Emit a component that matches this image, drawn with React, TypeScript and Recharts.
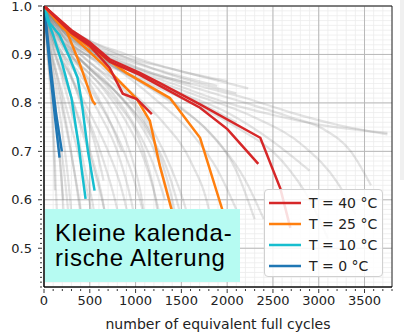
import { LineChart, Line, XAxis, YAxis, CartesianGrid, ReferenceArea, Legend } from "recharts"

// axis ticks
const xMajor = [0, 500, 1000, 1500, 2000, 2500, 3000, 3500]
const yMajor = [0.5, 0.6, 0.7, 0.8, 0.9, 1.0]
const xMinor = Array.from({ length: 39 }, (_, i) => i * 100)
const yMinor = Array.from({ length: 59 }, (_, i) => +(0.42 + i * 0.01).toFixed(2))

// background cells (grey), [cycles, SOH]
const greyCells = [
  [[0, 1], [300, 0.945], [800, 0.9], [1400, 0.87], [2230, 0.83]],
  [[0, 1], [300, 0.94], [800, 0.895], [1300, 0.865], [1890, 0.835]],
  [[0, 1], [250, 0.945], [700, 0.9], [1200, 0.86], [1700, 0.835], [2200, 0.81], [2700, 0.78], [3200, 0.755], [3750, 0.735]],
  [[0, 1], [300, 0.93], [800, 0.88], [1400, 0.84], [2000, 0.8], [2500, 0.775], [3000, 0.755], [3750, 0.738]],
  [[0, 1], [300, 0.935], [800, 0.885], [1500, 0.84], [2200, 0.8], [2700, 0.77], [3050, 0.746], [3350, 0.7], [3570, 0.63]],
  [[0, 1], [300, 0.93], [900, 0.87], [1600, 0.82], [2300, 0.77], [2834, 0.711], [3206, 0.635], [3400, 0.57]],
  [[0, 1], [300, 0.925], [900, 0.86], [1500, 0.81], [2100, 0.75], [2600, 0.68], [2900, 0.6], [3100, 0.52]],
  [[0, 1], [200, 0.94], [700, 0.88], [1200, 0.84], [1700, 0.8], [2100, 0.76]],
  [[0, 1], [300, 0.95], [900, 0.9], [1500, 0.865], [2000, 0.845]],
  [[0, 1], [250, 0.94], [700, 0.895], [1200, 0.86], [1600, 0.84]],
  [[0, 1], [200, 0.93], [500, 0.87], [900, 0.8], [1200, 0.72], [1400, 0.6], [1500, 0.5]],
  [[0, 1], [200, 0.92], [500, 0.86], [800, 0.8], [1050, 0.72], [1200, 0.62], [1300, 0.5]],
  [[0, 1], [150, 0.93], [400, 0.87], [700, 0.8], [900, 0.72], [1050, 0.62], [1150, 0.5]],
  [[0, 1], [150, 0.92], [350, 0.86], [600, 0.78], [800, 0.7], [950, 0.6], [1050, 0.5]],
  [[0, 1], [100, 0.93], [300, 0.85], [500, 0.76], [650, 0.68], [800, 0.58], [900, 0.48]],
  [[0, 1], [100, 0.92], [250, 0.84], [400, 0.75], [550, 0.66], [680, 0.56], [750, 0.48]],
  [[0, 1], [80, 0.93], [200, 0.85], [330, 0.76], [450, 0.66], [560, 0.56], [620, 0.46]],
  [[0, 1], [60, 0.93], [150, 0.85], [250, 0.75], [330, 0.66], [400, 0.57]],
  [[0, 1], [50, 0.92], [120, 0.84], [200, 0.74], [260, 0.65], [310, 0.55]],
  [[0, 1], [40, 0.93], [100, 0.84], [150, 0.74], [190, 0.64], [220, 0.56]],
  [[0, 1], [30, 0.92], [80, 0.82], [110, 0.72], [130, 0.62], [150, 0.54]],
  [[0, 1], [400, 0.9], [900, 0.83], [1300, 0.76], [1600, 0.68], [1800, 0.58], [1900, 0.48]],
  [[0, 1], [350, 0.9], [800, 0.82], [1100, 0.75], [1350, 0.66], [1500, 0.56], [1600, 0.46]],
  [[0, 1], [300, 0.91], [700, 0.84], [1000, 0.77], [1250, 0.68], [1400, 0.58]],
  [[0, 1], [250, 0.91], [600, 0.84], [900, 0.76], [1100, 0.68], [1250, 0.58], [1330, 0.5]],
  [[0, 1], [400, 0.92], [900, 0.86], [1400, 0.8], [1800, 0.74], [2100, 0.66], [2300, 0.56]],
  [[0, 1], [500, 0.91], [1000, 0.85], [1500, 0.79], [1900, 0.72], [2200, 0.64], [2400, 0.56]],
  [[0, 1], [200, 0.95], [600, 0.9], [1000, 0.86], [1500, 0.82], [2000, 0.78], [2500, 0.72], [2900, 0.66]],
  [[0, 1], [300, 0.95], [700, 0.91], [1200, 0.87], [1700, 0.84], [2100, 0.82]],
  [[0, 1], [150, 0.94], [400, 0.9], [700, 0.85], [1000, 0.79], [1200, 0.73]],
  [[0, 1], [100, 0.95], [300, 0.9], [500, 0.84], [700, 0.77], [850, 0.7]],
  [[0, 1], [80, 0.94], [250, 0.88], [400, 0.8], [550, 0.72], [650, 0.64]],
  [[0, 1], [120, 0.93], [350, 0.87], [600, 0.8], [850, 0.71], [1000, 0.63], [1100, 0.55], [1150, 0.46]],
  [[0, 1], [100, 0.93], [280, 0.86], [500, 0.78], [700, 0.7], [850, 0.62], [950, 0.53], [1000, 0.44]],
  [[0, 1], [70, 0.93], [200, 0.86], [380, 0.77], [520, 0.69], [640, 0.6], [720, 0.5], [760, 0.43]],
  [[0, 1], [60, 0.92], [170, 0.84], [300, 0.75], [420, 0.66], [520, 0.57], [580, 0.48]],
  [[0, 1], [50, 0.93], [130, 0.85], [230, 0.76], [320, 0.67], [400, 0.58], [450, 0.5], [480, 0.43]],
  [[0, 1], [40, 0.92], [100, 0.83], [170, 0.73], [230, 0.64], [270, 0.56], [300, 0.47]],
  [[0, 1], [35, 0.93], [90, 0.84], [140, 0.75], [180, 0.67], [210, 0.6]],
  [[0, 1], [20, 0.94], [60, 0.85], [90, 0.76], [110, 0.68], [120, 0.62]],
  [[0, 1], [150, 0.94], [450, 0.88], [750, 0.82], [1000, 0.75], [1200, 0.67], [1320, 0.6]],
  [[0, 1], [200, 0.94], [600, 0.88], [950, 0.81], [1200, 0.74], [1400, 0.66], [1550, 0.58], [1650, 0.5]],
  [[0, 1], [350, 0.93], [800, 0.87], [1200, 0.81], [1600, 0.74], [1900, 0.66], [2100, 0.58]],
]

const cells40 = [
  [[0, 1], [300, 0.944], [500, 0.918], [717, 0.872], [860, 0.819], [1013, 0.808], [1178, 0.777]],
  [[0, 1], [300, 0.947], [500, 0.922], [717, 0.885], [1047, 0.858], [1266, 0.835], [1704, 0.79], [2002, 0.746], [2340, 0.674]],
  [[0, 1], [300, 0.95], [500, 0.925], [717, 0.89], [1047, 0.862], [1266, 0.841], [1704, 0.797], [2362, 0.728], [2581, 0.623], [2690, 0.542]],
]
const cells25 = [
  [[0, 1], [224, 0.959], [388, 0.882], [531, 0.804], [563, 0.796]],
  [[0, 1], [300, 0.94], [641, 0.88], [1014, 0.808], [1156, 0.763], [1265, 0.67], [1397, 0.577], [1480, 0.48]],
  [[0, 1], [200, 0.955], [500, 0.915], [900, 0.862], [1375, 0.81], [1704, 0.728], [1945, 0.581], [2050, 0.48]],
]
const cells10 = [
  [[0, 1], [40, 0.97], [100, 0.94], [200, 0.88], [300, 0.81], [380, 0.71], [420, 0.65], [454, 0.602]],
  [[0, 1], [60, 0.965], [170, 0.94], [280, 0.893], [366, 0.852], [410, 0.804], [480, 0.7], [552, 0.619]],
]
const cells0 = [
  [[0, 1], [30, 0.95], [80, 0.86], [130, 0.78], [195, 0.7]],
  [[0, 1], [25, 0.95], [70, 0.86], [120, 0.77], [170, 0.687]],
]

const groups = [
  { label: "T = 40 °C", color: "#d62728", cells: cells40 },
  { label: "T = 25 °C", color: "#ff7f0e", cells: cells25 },
  { label: "T = 10 °C", color: "#17becf", cells: cells10 },
  { label: "T = 0 °C", color: "#1f77b4", cells: cells0 },
]

const toRows = (c: number[][]) => c.map(([x, y]) => ({ x, y }))
const font = "'DejaVu Sans', sans-serif"

const XTick = (props: any) => {
  const { x, y, payload } = props
  const v = payload.value
  const major = v % 500 === 0
  return (
    <g>
      <line x1={x} x2={x} y1={y} y2={y + (major ? 4 : 2)} stroke="#000" strokeWidth={0.8} />
      {major && (
        <text x={x} y={y + 16} textAnchor="middle" fontSize={13} fontFamily={font} fill="#222">
          {v}
        </text>
      )}
    </g>
  )
}

const YTick = (props: any) => {
  const { x, y, payload } = props
  const v = payload.value
  const major = Math.abs(v * 10 - Math.round(v * 10)) < 1e-6
  return (
    <g>
      <line x1={x} x2={x - (major ? 4 : 2)} y1={y} y2={y} stroke="#000" strokeWidth={0.8} />
      {major && (
        <text x={x - 10} y={y + 4.5} textAnchor="end" fontSize={13} fontFamily={font} fill="#222">
          {v.toFixed(1)}
        </text>
      )}
    </g>
  )
}

const LegendBox = () => (
  <div
    style={{
      width: 119,
      height: 88,
      background: "rgba(255,255,255,0.85)",
      border: "1px solid #d0d0d0",
      borderRadius: 4,
      boxSizing: "border-box",
      paddingTop: 2,
    }}
  >
    {groups.map((g) => (
      <div key={g.label} style={{ display: "flex", alignItems: "center", height: 21 }}>
        <svg width={44} height={10}>
          <line x1={4} x2={36} y1={5} y2={5} stroke={g.color} strokeWidth={2.5} />
        </svg>
        <span style={{ fontFamily: font, fontSize: 14, color: "#222" }}>{g.label}</span>
      </div>
    ))}
  </div>
)

export default function App() {
  return (
    <div style={{ position: "absolute", left: 0, top: 0, width: 404, height: 336, background: "#fff" }}>
      <LineChart width={404} height={336} margin={{ top: 6, right: 12, left: 0, bottom: 0 }}>
        <CartesianGrid stroke="#ececec" strokeWidth={0.8} horizontalValues={yMinor} verticalValues={xMinor} />
        <CartesianGrid stroke="#b8b8b8" strokeWidth={1} horizontalValues={yMajor} verticalValues={xMajor} />
        <XAxis
          dataKey="x"
          type="number"
          domain={[0, 3800]}
          ticks={xMinor}
          interval={0}
          tick={<XTick />}
          tickLine={false}
          tickSize={0}
          height={49}
          axisLine={{ stroke: "#000" }}
          allowDataOverflow
          label={{ value: "number of equivalent full cycles", position: "insideBottom", offset: 7, fontSize: 14, fontFamily: font, fill: "#222" }}
        />
        <YAxis
          dataKey="y"
          type="number"
          domain={[0.42, 1.0]}
          ticks={yMinor}
          interval={0}
          tick={<YTick />}
          tickLine={false}
          tickSize={0}
          width={44}
          axisLine={{ stroke: "#000" }}
          allowDataOverflow
        />
        {greyCells.map((c, i) => (
          <Line
            key={"g" + i}
            data={toRows(c)}
            dataKey="y"
            type="monotone"
            stroke="#7f7f7f"
            strokeOpacity={0.22}
            strokeWidth={2.2}
            dot={false}
            isAnimationActive={false}
            legendType="none"
          />
        ))}
        {[...groups].reverse().map((g) =>
          g.cells.map((c, i) => (
            <Line
              key={g.label + i}
              data={toRows(c)}
              dataKey="y"
              type="linear"
              stroke={g.color}
              strokeWidth={2.5}
              dot={false}
              isAnimationActive={false}
              legendType="none"
            />
          ))
        )}
        <ReferenceArea x1={0} x2={3800} y1={0.42} y2={1.0} fill="none" stroke="#222" strokeWidth={1} />
        <Legend
          content={<LegendBox />}
          layout="vertical"
          align="center"
          verticalAlign="middle"
          wrapperStyle={{ position: "absolute", left: 264, top: 189, width: 119 }}
        />
      </LineChart>
      <div
        style={{
          position: "absolute",
          left: 45,
          top: 209,
          width: 195,
          height: 73,
          background: "#b6fbf2",
          fontFamily: "'Liberation Sans', Arial, sans-serif",
          fontSize: 24,
          lineHeight: "25px",
          letterSpacing: 0.8,
          color: "#000",
          paddingLeft: 10,
          paddingTop: 11,
          boxSizing: "border-box",
          whiteSpace: "nowrap",
        }}
      >
        Kleine kalenda-
        <br />
        rische Alterung
      </div>
      <div style={{ position: "absolute", left: 400, top: 0, width: 4, height: 180, background: "#f0f0f0" }} />
    </div>
  )
}
